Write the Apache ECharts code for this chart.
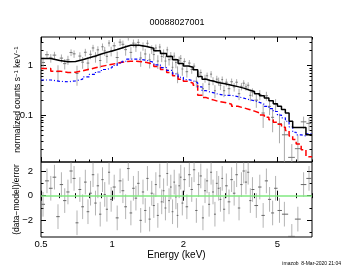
<!DOCTYPE html>
<html><head><meta charset="utf-8">
<script src="https://cdn.jsdelivr.net/npm/echarts@6/dist/echarts.min.js"></script>
<style>html,body{margin:0;padding:0;background:#fff}#c{width:354px;height:274px}</style>
</head><body><div id="c"></div>
<script>
// ---------- text ----------
const chartTitle = '00088027001';
const stampText = 'imazob  8-Mar-2020 21:04';
const xName = 'Energy (keV)';
const yTopName = 'normalized counts s{sup|−1} keV{sup|−1}';
const yResName = '(data−model)/error';

// ---------- ticks ----------
const xTickLabels = [0.5, 1, 2, 5];
const xMinorTicks = [0.5, 0.6, 0.7, 0.8, 0.9, 1, 2, 3, 4, 5, 6, 7];
const yTopTickLabels = [0.1, 1];
const yTopMinorTicks = [0.02,0.03,0.04,0.05,0.06,0.07,0.08,0.09,0.1,0.2,0.3,0.4,0.5,0.6,0.7,0.8,0.9,1,2,3];
const yResTickLabels = [-2, 0, 2];
const yResMinorTicks = [-3, -2, -1, 0, 1, 2];

// ---------- model (left bin edges, step) ----------
const modelE = [0.5,0.55,0.6,0.65,0.7,0.75,0.8,0.85,0.9,0.95,1.0,1.05,1.1,1.15,1.2,1.3,1.4,1.5,1.6,1.7,1.8,1.9,2.0,2.1,2.2,2.3,2.4,2.5,2.6,2.7,2.8,3.0,3.2,3.4,3.6,3.8,4.0,4.2,4.4,4.6,4.8,5.0,5.2,5.4,5.6,5.8,6.0,6.3,6.6,7.0];
const modelTotal = [1.38,1.26,1.19,1.21,1.31,1.43,1.56,1.70,1.84,1.97,2.10,2.26,2.42,2.56,2.55,2.42,2.22,1.98,1.74,1.52,1.30,1.10,0.98,0.92,0.82,0.60,0.53,0.50,0.48,0.455,0.43,0.40,0.375,0.35,0.32,0.30,0.27,0.245,0.22,0.195,0.17,0.15,0.13,0.11,0.075,0.056,0.056,0.056,0.040,0.040];
const modelComp1 = [0.87,0.77,0.72,0.73,0.78,0.84,0.90,0.96,1.01,1.06,1.11,1.16,1.20,1.22,1.21,1.15,1.06,0.95,0.83,0.72,0.62,0.53,0.48,0.44,0.40,0.25,0.225,0.21,0.20,0.19,0.18,0.165,0.15,0.14,0.13,0.12,0.11,0.10,0.09,0.08,0.072,0.065,0.057,0.049,0.038,0.032,0.026,0.020,0.0145,0.0145];
const modelComp2 = [0.51,0.48,0.47,0.49,0.53,0.59,0.66,0.74,0.83,0.91,1.0,1.1,1.22,1.34,1.34,1.27,1.16,1.03,0.91,0.80,0.68,0.58,0.52,0.49,0.45,0.37,0.31,0.29,0.28,0.265,0.25,0.25,0.235,0.22,0.205,0.195,0.18,0.165,0.15,0.135,0.118,0.10,0.088,0.075,0.058,0.045,0.040,0.038,0.042,0.042];

// ---------- data ----------
const dataE = [0.51,0.53,0.55,0.57,0.59,0.61,0.63,0.65,0.67,0.69,0.71,0.73,0.75,0.77,0.79,0.81,0.83,0.85,0.87,0.89,0.91,0.93,0.95,0.97,0.99,
1.02,1.05,1.08,1.11,1.14,1.17,1.20,1.23,1.26,1.29,1.32,1.35,1.38,1.41,1.44,1.47,1.50,1.53,1.56,1.59,1.62,1.65,1.68,1.71,1.74,1.77,1.80,1.83,1.86,1.89,1.92,1.95,1.98,
2.02,2.07,2.12,2.17,2.22,2.27,2.32,2.37,2.42,2.47,2.52,2.57,2.62,2.67,2.72,2.77,2.82,2.87,2.92,2.97,
3.04,3.12,3.20,3.28,3.36,3.44,3.52,3.60,3.68,3.76,3.84,3.92,
4.07,4.21,4.35,4.49,4.63,4.77,4.91,
5.10,5.35,5.75,6.10,6.45,6.80];
const dataY = [1.15,1.65,1.42,1.62,0.75,1.41,1.09,1.30,1.83,1.72,0.69,1.55,1.17,1.85,1.12,1.68,2.26,1.50,2.07,1.26,2.39,1.97,1.53,2.84,1.96,
2.50,1.45,2.96,2.68,2.09,3.71,1.84,2.83,2.38,2.93,1.42,2.46,1.71,2.81,1.30,2.13,1.66,2.26,1.23,2.36,1.52,1.77,1.23,2.07,1.31,1.57,0.92,1.55,1.15,0.70,1.27,1.39,0.85,
1.21,0.75,1.12,0.83,0.97,0.48,0.67,0.72,0.34,0.55,0.62,0.42,0.67,0.49,0.31,0.53,0.48,0.40,0.52,0.31,
0.46,0.34,0.47,0.37,0.46,0.27,0.38,0.44,0.37,0.40,0.25,0.29,
0.20,0.26,0.11,0.245,0.15,0.09,0.165,
0.067,0.04,0.014,0.021,0.073,0.068];
const dataErr = [0.30,0.29,0.28,0.27,0.26,0.26,0.26,0.27,0.28,0.29,0.30,0.30,0.31,0.32,0.33,0.34,0.35,0.36,0.37,0.38,0.39,0.40,0.41,0.42,0.43,
0.45,0.46,0.48,0.50,0.51,0.52,0.51,0.51,0.50,0.49,0.48,0.47,0.46,0.44,0.43,0.42,0.40,0.39,0.38,0.37,0.35,0.34,0.33,0.32,0.31,0.30,0.29,0.28,0.27,0.26,0.25,0.24,0.23,
0.19,0.18,0.17,0.15,0.14,0.12,0.11,0.11,0.10,0.10,0.10,0.10,0.10,0.09,0.09,0.09,0.09,0.08,0.08,0.08,
0.08,0.08,0.075,0.072,0.07,0.07,0.065,0.065,0.06,0.06,0.06,0.055,
0.06,0.06,0.055,0.05,0.05,0.045,0.045,
0.04,0.035,0.012,0.018,0.02,0.02];
const resid = [-0.7,1.2,0.6,1.5,-1.7,0.9,-0.4,0.3,2.0,1.4,-2.2,0.5,-0.9,1.1,-1.3,0.2,1.7,-0.6,0.8,-1.5,1.3,0.1,-1.1,1.9,-0.3,
0.7,-1.8,1.2,0.4,-0.9,2.2,-1.4,0.6,-0.2,1.0,-2.0,0.3,-1.2,1.4,-1.9,0.2,-0.8,0.9,-1.6,1.6,-0.5,0.4,-1.0,1.8,-0.4,0.7,-1.3,1.1,-0.1,-1.6,0.8,1.5,-0.6,
1.3,-0.9,1.7,0.5,2.1,-1.2,0.9,1.6,-1.8,0.4,1.2,-0.7,1.9,0.3,-1.5,1.0,0.6,-0.3,1.4,-1.1,
0.8,-0.5,1.3,0.2,1.7,-1.0,0.9,2.0,1.1,1.9,-0.4,0.5,
-0.8,0.7,-1.6,1.2,-0.3,-1.4,0.6,
-1.2,-1.5,-3.3,-1.9,0.9,1.4];

// ---------- build ----------
const FONT = 'Liberation Sans, Arial, Helvetica, sans-serif';
const xMin = 0.5, xMax = 7;
const yTopMin = 0.0113, yTopMax = 3.76;
const yResMin = -3.35, yResMax = 2.73;

function binEdges(i) {
  const e = dataE[i];
  const lo = i > 0 ? (dataE[i-1] + e) / 2 : Math.max(xMin, e - (dataE[1]-dataE[0]) / 2);
  const hi = i < dataE.length - 1 ? (dataE[i+1] + e) / 2 : Math.min(xMax, e + (e - dataE[i-1]) / 2);
  return [lo, hi];
}
const topData = dataE.map((e, i) => { const b = binEdges(i); return [e, dataY[i], dataErr[i], b[0], b[1]]; });
const resData = dataE.map((e, i) => { const b = binEdges(i); return [e, resid[i], 1, b[0], b[1]]; });
const stepPairs = arr => modelE.map((e, i) => [e, arr[i]]);

function crossRender(color, hcolor, floor) {
  return function (params, api) {
    const x = api.value(0), y = api.value(1), e = api.value(2), xl = api.value(3), xh = api.value(4);
    const lo = floor != null ? Math.max(y - e, floor) : y - e;
    const p1 = api.coord([x, lo]), p2 = api.coord([x, y + e]);
    const q1 = api.coord([xl, y]), q2 = api.coord([xh, y]);
    return { type: 'group', children: [
      { type: 'line', shape: { x1: p1[0], y1: p1[1], x2: p2[0], y2: p2[1] }, style: { stroke: color, lineWidth: 1 } },
      { type: 'line', shape: { x1: q1[0], y1: q1[1], x2: q2[0], y2: q2[1] }, style: { stroke: hcolor, lineWidth: 1 } }
    ]};
  };
}

const fmt = v => String(parseFloat(Number(v).toPrecision(3))).replace('-', '−');
const tickStyle = { color: '#000', width: 1 };

function xAx(grid, pos, ticks, len, labels, name) {
  return {
    type: 'log', logBase: 10, gridIndex: grid, position: pos, min: xMin, max: xMax,
    axisLine: { show: false }, splitLine: { show: false },
    axisTick: { show: true, inside: true, length: len, customValues: ticks, lineStyle: tickStyle },
    axisLabel: labels ? { show: true, customValues: labels, margin: 2, fontSize: 9.5, color: '#000', fontFamily: FONT, formatter: fmt } : { show: false },
    name: name || '', nameLocation: 'middle', nameGap: 13,
    nameTextStyle: { fontSize: 10, color: '#000', fontFamily: FONT }
  };
}
function yAx(grid, pos, type, min, max, ticks, len, labels, name, gap, rich) {
  return {
    type: type, gridIndex: grid, position: pos, min: min, max: max,
    axisLine: { show: false }, splitLine: { show: false },
    axisTick: { show: true, inside: true, length: len, customValues: ticks, lineStyle: tickStyle },
    axisLabel: labels ? { show: true, customValues: labels, margin: 8, fontSize: 9.5, color: '#000', fontFamily: FONT, formatter: fmt } : { show: false },
    name: name || '', nameLocation: 'middle', nameGap: gap || 20, nameRotate: 90, nameMoveOverlap: false,
    nameTextStyle: { fontSize: 8.5, color: '#000', fontFamily: FONT, rich: rich || {} }
  };
}
const supRich = { sup: { fontSize: 6, verticalAlign: 'top', color: '#000', fontFamily: FONT, padding: [0, 0, 4, 0] } };

const option = {
  animation: false,
  backgroundColor: '#fff',
  title: [
    { text: chartTitle, left: 'center', top: 13, textStyle: { fontSize: 9, fontWeight: 'normal', color: '#000', fontFamily: FONT } },
    { text: stampText, right: 8, top: 256, textStyle: { fontSize: 5, fontWeight: 'normal', color: '#000', fontFamily: FONT } }
  ],
  grid: [
    { left: 41, right: 42, top: 37, height: 125, show: true, borderColor: '#000', borderWidth: 1, backgroundColor: 'transparent' },
    { left: 41, right: 42, top: 162, height: 75, show: true, borderColor: '#000', borderWidth: 1, backgroundColor: 'transparent' }
  ],
  xAxis: [
    xAx(0, 'bottom', xMinorTicks, 2.5),
    xAx(0, 'top', xMinorTicks, 2.5),
    xAx(0, 'bottom', xTickLabels, 5),
    xAx(0, 'top', xTickLabels, 5),
    xAx(1, 'bottom', xMinorTicks, 2.5),
    xAx(1, 'top', xMinorTicks, 2.5),
    xAx(1, 'bottom', xTickLabels, 5, xTickLabels, xName),
    xAx(1, 'top', xTickLabels, 5)
  ],
  yAxis: [
    yAx(0, 'left', 'log', yTopMin, yTopMax, yTopMinorTicks, 2.5),
    yAx(0, 'right', 'log', yTopMin, yTopMax, yTopMinorTicks, 2.5),
    yAx(0, 'left', 'log', yTopMin, yTopMax, yTopTickLabels, 5, yTopTickLabels, yTopName, 18, supRich),
    yAx(0, 'right', 'log', yTopMin, yTopMax, yTopTickLabels, 5),
    yAx(1, 'left', 'value', yResMin, yResMax, yResMinorTicks, 2.5),
    yAx(1, 'right', 'value', yResMin, yResMax, yResMinorTicks, 2.5),
    yAx(1, 'left', 'value', yResMin, yResMax, yResTickLabels, 5, yResTickLabels, yResName, 20),
    yAx(1, 'right', 'value', yResMin, yResMax, yResTickLabels, 5)
  ],
  series: [
    { type: 'custom', xAxisIndex: 0, yAxisIndex: 0, clip: true, z: 2,
      renderItem: crossRender('rgba(150,150,150,0.8)', '#777', 1e-4), data: topData, encode: { x: 0, y: 1 } },
    { type: 'line', xAxisIndex: 0, yAxisIndex: 0, step: 'end', symbol: 'none', z: 5, clip: true,
      lineStyle: { color: '#ff0000', width: 1.5, type: [6, 3] }, data: stepPairs(modelComp1) },
    { type: 'line', xAxisIndex: 0, yAxisIndex: 0, step: 'end', symbol: 'none', z: 5, clip: true,
      lineStyle: { color: '#0000ff', width: 1.2, type: [3, 2, 1, 2] }, data: stepPairs(modelComp2) },
    { type: 'line', xAxisIndex: 0, yAxisIndex: 0, step: 'end', symbol: 'none', z: 6, clip: true,
      lineStyle: { color: '#000', width: 1.5 }, data: stepPairs(modelTotal) },
    { type: 'custom', xAxisIndex: 4, yAxisIndex: 4, clip: true, z: 2,
      renderItem: crossRender('rgba(130,130,130,0.6)', '#666', null), data: resData, encode: { x: 0, y: 1 } },
    { type: 'line', xAxisIndex: 4, yAxisIndex: 4, data: [], symbol: 'none', z: 6,
      markLine: { silent: true, symbol: 'none', label: { show: false },
        lineStyle: { color: '#80e880', width: 1.5, type: 'solid' }, data: [{ yAxis: 0 }] } }
  ]
};
const chart = echarts.init(document.getElementById('c'), null, { renderer: 'canvas' });
chart.setOption(option);
</script>
</body></html>
